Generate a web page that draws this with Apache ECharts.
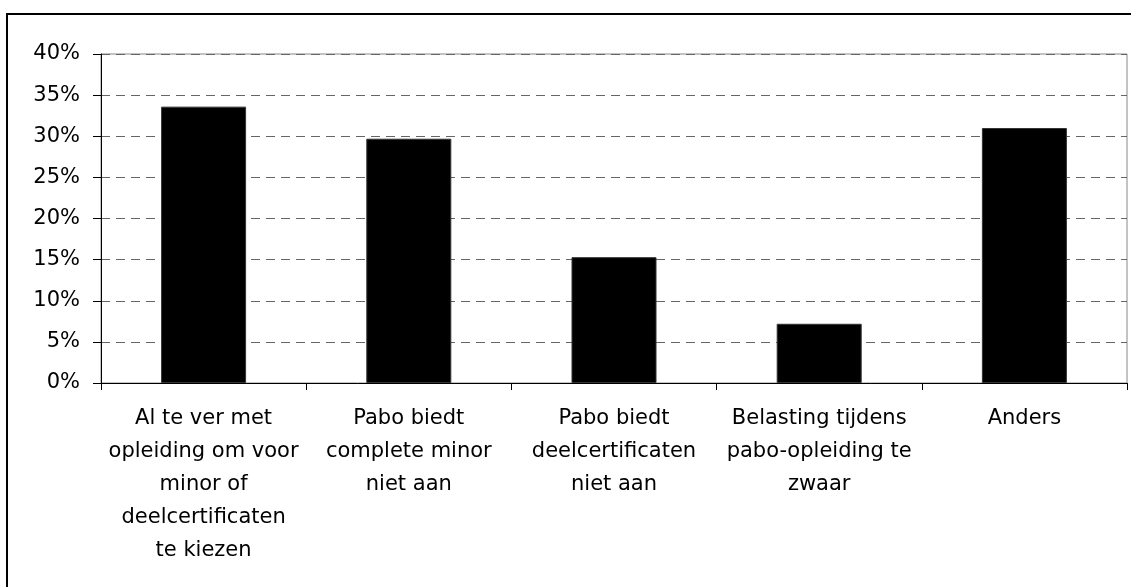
<!DOCTYPE html>
<html>
<head>
<meta charset="utf-8">
<script src="https://cdn.jsdelivr.net/npm/echarts@6/dist/echarts.min.js"></script>
<style>
  html, body { margin: 0; padding: 0; background: #fff; }
  #chart { width: 1131px; height: 587px; }
</style>
</head>
<body>
<div id="chart"></div>
<script>
var categories = [
  'Al te ver met\nopleiding om voor\nminor of\ndeelcertificaten\nte kiezen',
  'Pabo biedt\ncomplete minor\nniet aan',
  'Pabo biedt\ndeelcertificaten\nniet aan',
  'Belasting tijdens\npabo-opleiding te\nzwaar',
  'Anders'
];
var values = [33.6, 29.7, 15.3, 7.2, 31.0];

var chartDom = document.getElementById('chart');
var myChart = echarts.init(chartDom);
var option;

var font = 'DejaVu Sans';

option = {
  animation: false,
  backgroundColor: '#fff',
  graphic: [
    {
      type: 'rect',
      shape: { x: 7, y: 14, width: 1140, height: 600 },
      style: { fill: 'none', stroke: '#000', lineWidth: 2 },
      silent: true
    }
  ],
  grid: {
    left: 101,
    right: 4,
    top: 54,
    bottom: 204,
    show: true,
    borderColor: '#888',
    borderWidth: 1
  },
  xAxis: {
    type: 'category',
    data: categories,
    axisLine: { lineStyle: { color: '#000', width: 1 } },
    axisTick: { show: true, length: 7, lineStyle: { color: '#000' } },
    axisLabel: {
      interval: 0,
      margin: 19,
      color: '#000',
      fontFamily: font,
      fontSize: 21,
      lineHeight: 33,
      align: 'center'
    }
  },
  yAxis: {
    type: 'value',
    min: 0,
    max: 40,
    interval: 5,
    axisLine: { show: true, lineStyle: { color: '#000', width: 1 } },
    axisTick: { show: true, length: 8, lineStyle: { color: '#000' } },
    axisLabel: {
      formatter: '{value}%',
      margin: 21,
      color: '#000',
      fontFamily: font,
      fontSize: 21
    },
    splitLine: {
      show: true,
      lineStyle: { color: '#666', type: [9, 6], width: 1 }
    }
  },
  series: [
    {
      type: 'bar',
      data: values,
      barWidth: 85,
      itemStyle: { color: '#000', borderColor: '#333', borderWidth: 1 }
    }
  ]
};

option && myChart.setOption(option);
</script>
</body>
</html>
